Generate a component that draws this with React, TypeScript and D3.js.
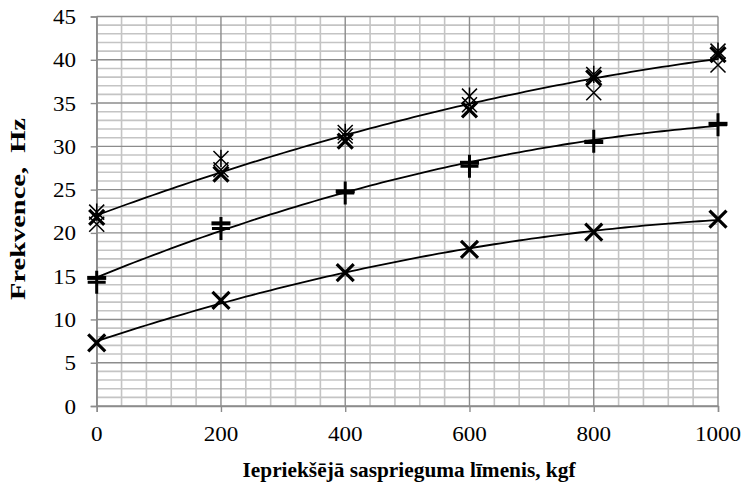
import React, { useRef, useEffect } from "react";
import * as d3 from "d3";

// load levels, kgf
const loads = [0, 200, 400, 600, 800, 1000];

// upper group, three repeated measurements
const topStar = [22.4, 28.6, 31.6, 35.8, 38.3, 41.0];
const topThickX = [21.8, 26.8, 30.6, 34.2, 37.9, 40.6];
const topThinX = [21.0, 27.3, 31.2, 34.8, 36.2, 39.4];

// middle group
const midPlus = [14.3, 20.5, 24.6, 27.7, 30.6, 32.5];
const midDash = [14.8, 21.1, 24.8, 28.1, 30.5, 32.6];

// lower group
const lowX = [7.3, 12.2, 15.4, 18.1, 20.1, 21.6];

const xTicks = [0, 200, 400, 600, 800, 1000];
const yTicks = [0, 5, 10, 15, 20, 25, 30, 35, 40, 45];

const W = 745;
const H = 485;
const SERIF = "'Liberation Serif', 'Times New Roman', serif";

// least squares 2nd order polynomial (Excel style trendline)
function polyFit(xs: number[], ys: number[]) {
  let s0 = 0, s1 = 0, s2 = 0, s3 = 0, s4 = 0, t0 = 0, t1 = 0, t2 = 0;
  xs.forEach((xv, i) => {
    const x = xv / 1000;
    const y = ys[i];
    s0 += 1; s1 += x; s2 += x * x; s3 += x * x * x; s4 += x * x * x * x;
    t0 += y; t1 += x * y; t2 += x * x * y;
  });
  const m = [
    [s0, s1, s2, t0],
    [s1, s2, s3, t1],
    [s2, s3, s4, t2],
  ];
  for (let i = 0; i < 3; i++) {
    for (let k = i + 1; k < 3; k++) {
      const f = m[k][i] / m[i][i];
      for (let j = i; j < 4; j++) m[k][j] -= f * m[i][j];
    }
  }
  const c = [0, 0, 0];
  for (let i = 2; i >= 0; i--) {
    let s = m[i][3];
    for (let j = i + 1; j < 3; j++) s -= m[i][j] * c[j];
    c[i] = s / m[i][i];
  }
  return (xv: number) => {
    const x = xv / 1000;
    return c[0] + c[1] * x + c[2] * x * x;
  };
}

const App = () => {
  const ref = useRef<SVGSVGElement>(null);

  useEffect(() => {
    const svg = d3.select(ref.current);
    svg.selectAll("*").remove();

    const x = d3.scaleLinear().domain([0, 1000]).range([96.7, 718]);
    const y = d3.scaleLinear().domain([0, 45]).range([406, 16.5]);

    const grid = svg.append("g");
    const minorX = d3.range(0, 1001, 40).filter((v) => v % 200 !== 0);
    const minorY = d3.range(0, 46, 1).filter((v) => v % 5 !== 0);

    grid
      .selectAll(".mx")
      .data(minorX)
      .enter()
      .append("line")
      .attr("x1", (d) => x(d))
      .attr("x2", (d) => x(d))
      .attr("y1", y(0))
      .attr("y2", y(45))
      .attr("stroke", "#c4c4c4")
      .attr("stroke-width", 1.6);

    grid
      .selectAll(".my")
      .data(minorY)
      .enter()
      .append("line")
      .attr("x1", x(0))
      .attr("x2", x(1000))
      .attr("y1", (d) => y(d))
      .attr("y2", (d) => y(d))
      .attr("stroke", "#c4c4c4")
      .attr("stroke-width", 1.6);

    grid
      .selectAll(".Mx")
      .data(xTicks)
      .enter()
      .append("line")
      .attr("x1", (d) => x(d))
      .attr("x2", (d) => x(d))
      .attr("y1", y(0))
      .attr("y2", y(45))
      .attr("stroke", "#8c8c8c")
      .attr("stroke-width", 1.4);

    grid
      .selectAll(".My")
      .data(yTicks)
      .enter()
      .append("line")
      .attr("x1", x(0))
      .attr("x2", x(1000))
      .attr("y1", (d) => y(d))
      .attr("y2", (d) => y(d))
      .attr("stroke", "#8c8c8c")
      .attr("stroke-width", 1.4);

    // axes (tick marks only, labels drawn below)
    const yAxis = svg
      .append("g")
      .attr("transform", `translate(${x(0)},0)`)
      .call(d3.axisLeft(y).tickValues(yTicks).tickSize(6).tickFormat(() => ""));
    const xAxis = svg
      .append("g")
      .attr("transform", `translate(0,${y(0)})`)
      .call(d3.axisBottom(x).tickValues(xTicks).tickSize(6).tickFormat(() => ""));

    [yAxis, xAxis].forEach((g) => {
      g.select(".domain").attr("stroke", "#8c8c8c").attr("stroke-width", 1.4);
      g.selectAll(".tick line").attr("stroke", "#8c8c8c").attr("stroke-width", 1.4);
    });

    const labels = svg
      .append("g")
      .style("font-family", SERIF)
      .style("font-size", "21px")
      .attr("fill", "#000");

    labels
      .selectAll(".yl")
      .data(yTicks)
      .enter()
      .append("text")
      .attr("text-anchor", "end")
      .attr("transform", (d) => `translate(76,${y(d) + 7.5}) scale(1.1,1)`)
      .text((d) => String(d));

    labels
      .selectAll(".xl")
      .data(xTicks)
      .enter()
      .append("text")
      .attr("text-anchor", "middle")
      .attr("transform", (d) => `translate(${x(d)},${y(0) + 35}) scale(1.1,1)`)
      .text((d) => String(d));

    // trendlines
    const line = d3.line<number>().x((d) => x(d));
    const sample = d3.range(0, 1001, 10);
    const groups = [
      { xs: [...loads, ...loads, ...loads], ys: [...topStar, ...topThickX, ...topThinX] },
      { xs: [...loads, ...loads], ys: [...midPlus, ...midDash] },
      { xs: loads, ys: lowX },
    ];
    groups.forEach((g) => {
      const f = polyFit(g.xs, g.ys);
      svg
        .append("path")
        .attr("d", line.y((d) => y(f(d)))(sample))
        .attr("fill", "none")
        .attr("stroke", "#000")
        .attr("stroke-width", 1.8);
    });

    const marks = svg.append("g").attr("stroke", "#000").attr("fill", "none");

    const drawX = (vals: number[], r: number, sw: number, star: boolean) => {
      loads.forEach((l, i) => {
        const cx = x(l);
        const cy = y(vals[i]);
        const p =
          `M${cx - r},${cy - r}L${cx + r},${cy + r}M${cx - r},${cy + r}L${cx + r},${cy - r}` +
          (star ? `M${cx},${cy - r * 1.15}L${cx},${cy + r * 1.15}` : "");
        marks.append("path").attr("d", p).attr("stroke-width", sw);
      });
    };

    drawX(topStar, 7.5, 1.5, true);
    drawX(topThinX, 7.5, 1.5, false);
    drawX(topThickX, 7.5, 3.2, false);
    drawX(lowX, 8.5, 3.2, false);

    loads.forEach((l, i) => {
      const cx = x(l);
      const cy = y(midPlus[i]);
      marks
        .append("path")
        .attr("d", `M${cx - 9},${cy}L${cx + 9},${cy}M${cx},${cy - 11.5}L${cx},${cy + 11.5}`)
        .attr("stroke-width", 3);
      const dy = y(midDash[i]);
      marks
        .append("rect")
        .attr("x", cx - 9.5)
        .attr("y", dy - 2)
        .attr("width", 19)
        .attr("height", 4)
        .attr("fill", "#000")
        .attr("stroke", "none");
    });

    // titles
    svg
      .append("text")
      .attr("x", 409)
      .attr("y", 477)
      .attr("text-anchor", "middle")
      .style("font-family", SERIF)
      .style("font-weight", "bold")
      .style("font-size", "20px")
      .attr("textLength", 333)
      .attr("lengthAdjust", "spacingAndGlyphs")
      .text("Iepriekšējā sasprieguma līmenis, kgf");

    svg
      .append("text")
      .attr("transform", "translate(25,209) rotate(-90)")
      .attr("text-anchor", "middle")
      .style("font-family", SERIF)
      .style("font-weight", "bold")
      .style("font-size", "20px")
      .attr("textLength", 182)
      .attr("lengthAdjust", "spacingAndGlyphs")
      .style("white-space", "pre")
      .text("Frekvence,  Hz");
  }, []);

  return (
    <svg
      ref={ref}
      width={W}
      height={H}
      style={{ position: "absolute", left: 0, top: 0, background: "#fff" }}
    />
  );
};

export default App;
